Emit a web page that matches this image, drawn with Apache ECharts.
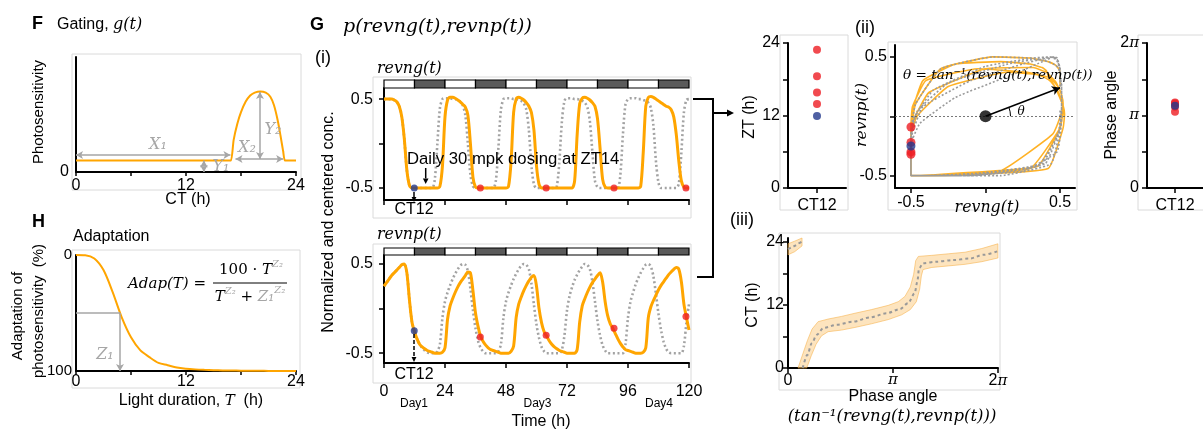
<!DOCTYPE html>
<html>
<head>
<meta charset="utf-8">
<script src="https://cdn.jsdelivr.net/npm/echarts@6.0.0/dist/echarts.min.js"></script>
<style>
html,body{margin:0;padding:0;background:#fff;}
#chart{width:1203px;height:433px;}
</style>
</head>
<body>
<div id="chart"></div>
<script>
// ================= DATA =================
// F: gating g(t)
const gatingCT    = [0, 12, 16.6, 16.9, 17.2, 17.6, 18.0, 18.5, 19.0, 19.5, 20.1, 20.7, 21.2, 21.6, 22.0, 22.3, 22.6, 22.8, 23.2, 24];
const gatingLevel = [0.10, 0.10, 0.10, 0.10, 0.28, 0.42, 0.52, 0.61, 0.665, 0.69, 0.70, 0.69, 0.655, 0.58, 0.45, 0.32, 0.18, 0.10, 0.10, 0.10];
// H: adaptation (%) vs light duration (h)
const adapHours = [0,1,2,3,4,5,6,7,8,9,10,11,12,13,14,15,16,17,18,19,20,21,22,23,24];
const adapPct   = [0,0.2,3,13,32,54,71,82,88,93,95,97,98,98.6,99,99.3,99.5,99.6,99.7,99.8,99.8,99.9,99.9,99.9,100];
// G(i): light/dark bar (12-h blocks)
const ldStart = [0,12,24,36,48,60,72,84,96,108];
const ldDark  = [0,1,0,1,0,1,0,1,0,1];
const ldHours = 12;
// G(i): hourly samples t = 0..120 h
const revngDosed = [
  0.50,0.50,0.50,0.50,0.49,0.47,0.42,0.30,0.05,-0.30,-0.47,-0.50,
  -0.50,-0.50,-0.50,-0.50,-0.50,-0.50,-0.50,-0.50,-0.50,-0.50,-0.48,-0.25,
  0.30,0.49,0.52,0.52,0.51,0.49,0.47,0.44,0.41,0.32,0.00,-0.38,
  -0.49,-0.50,-0.50,-0.50,-0.50,-0.50,-0.50,-0.50,-0.50,-0.50,-0.50,-0.50,
  -0.50,-0.48,-0.20,0.35,0.50,0.52,0.51,0.49,0.46,0.42,0.35,0.15,
  -0.25,-0.46,-0.50,-0.50,-0.50,-0.50,-0.50,-0.50,-0.50,-0.50,-0.50,-0.50,
  -0.50,-0.50,-0.50,-0.42,0.10,0.45,0.51,0.52,0.51,0.49,0.46,0.42,
  0.28,-0.05,-0.40,-0.49,-0.50,-0.50,-0.50,-0.50,-0.50,-0.50,-0.50,-0.50,
  -0.50,-0.50,-0.50,-0.50,-0.50,-0.48,-0.10,0.42,0.52,0.53,0.52,0.50,
  0.48,0.46,0.44,0.42,0.41,0.38,0.30,0.10,-0.20,-0.42,-0.49,-0.50,
  -0.50];
const revnpDosed = [
  0.25,0.29,0.33,0.37,0.40,0.43,0.46,0.49,0.50,0.40,0.10,-0.15,
  -0.26,-0.34,-0.40,-0.43,-0.45,-0.47,-0.48,-0.49,-0.50,-0.50,-0.50,-0.49,
  -0.44,-0.12,0.03,0.11,0.18,0.24,0.29,0.33,0.37,0.41,0.40,0.20,
  -0.05,-0.20,-0.31,-0.37,-0.41,-0.44,-0.46,-0.47,-0.48,-0.49,-0.50,-0.50,
  -0.50,-0.50,-0.48,-0.42,-0.10,0.05,0.13,0.20,0.26,0.31,0.35,0.37,
  0.25,0.00,-0.16,-0.26,-0.31,-0.36,-0.40,-0.43,-0.45,-0.47,-0.48,-0.49,
  -0.50,-0.50,-0.50,-0.50,-0.46,-0.15,0.03,0.11,0.18,0.24,0.29,0.33,
  0.37,0.40,0.30,0.08,-0.08,-0.17,-0.22,-0.28,-0.34,-0.39,-0.43,-0.46,
  -0.47,-0.48,-0.49,-0.50,-0.50,-0.50,-0.49,-0.44,-0.10,0.02,0.09,0.15,
  0.21,0.26,0.30,0.34,0.38,0.41,0.44,0.46,0.44,0.30,0.05,-0.10,
  -0.24];
const revngRef = [
  0.50,0.50,0.50,0.50,0.49,0.47,0.42,0.30,0.05,-0.30,-0.47,-0.50,
  -0.50,-0.50,-0.50,-0.50,-0.50,-0.50,-0.50,-0.50,-0.40,0.00,0.40,0.50,
  0.51,0.51,0.51,0.50,0.50,0.49,0.47,0.43,0.32,0.00,-0.35,-0.48,
  -0.50,-0.50,-0.50,-0.50,-0.50,-0.50,-0.50,-0.50,-0.42,-0.05,0.38,0.50,
  0.51,0.51,0.51,0.50,0.50,0.49,0.48,0.45,0.38,0.15,-0.25,-0.46,
  -0.50,-0.50,-0.50,-0.50,-0.50,-0.50,-0.50,-0.50,-0.48,-0.20,0.25,0.48,
  0.51,0.51,0.51,0.50,0.50,0.49,0.48,0.46,0.41,0.25,-0.10,-0.42,
  -0.49,-0.50,-0.50,-0.50,-0.50,-0.50,-0.50,-0.50,-0.50,-0.35,0.10,0.44,
  0.50,0.51,0.51,0.51,0.50,0.50,0.49,0.48,0.46,0.40,0.20,-0.20,
  -0.44,-0.50,-0.50,-0.50,-0.50,-0.50,-0.50,-0.50,-0.45,-0.10,0.35,0.49,
  0.50];
const revnpRef = [
  0.25,0.29,0.33,0.37,0.40,0.43,0.46,0.49,0.50,0.40,0.10,-0.15,
  -0.26,-0.34,-0.40,-0.44,-0.47,-0.49,-0.50,-0.50,-0.50,-0.48,-0.40,-0.10,
  0.08,0.18,0.26,0.33,0.39,0.44,0.48,0.50,0.49,0.42,0.22,-0.02,
  -0.22,-0.36,-0.44,-0.48,-0.50,-0.50,-0.50,-0.50,-0.50,-0.48,-0.40,-0.10,
  0.08,0.18,0.26,0.33,0.39,0.44,0.48,0.50,0.49,0.44,0.28,0.04,
  -0.18,-0.33,-0.43,-0.48,-0.50,-0.50,-0.50,-0.50,-0.50,-0.50,-0.46,-0.30,
  -0.02,0.14,0.24,0.32,0.38,0.43,0.47,0.50,0.49,0.44,0.30,0.08,
  -0.14,-0.30,-0.41,-0.47,-0.50,-0.50,-0.50,-0.50,-0.50,-0.50,-0.50,-0.40,
  -0.10,0.08,0.18,0.27,0.34,0.40,0.45,0.49,0.50,0.47,0.36,0.16,
  -0.06,-0.24,-0.37,-0.45,-0.49,-0.50,-0.50,-0.50,-0.50,-0.50,-0.42,-0.15,
  0.05];
// CT12 sampling points (first = blue CT12, rest = red daily)
const dotT = [11.9, 37.9, 63.8, 90.5, 118.8];
const dotG = [-0.50, -0.50, -0.50, -0.50, -0.50];
const dotP = [-0.25, -0.32, -0.30, -0.22, -0.09];
const ztHours  = [11.9, 13.9, 15.8, 18.5, 22.9];
const phaseRad = [3.56, 3.70, 3.66, 3.52, 3.30];
// (ii) theta arrow tip
const thetaTip = [0.5, 0.24];
// (iii) CT vs phase angle
const ctCurve1Phase = [0.0, 0.1, 0.2, 0.3, 0.41];
const ctCurve1      = [22.6, 22.9, 23.2, 23.6, 24.0];
const ctCurve2Phase = [0.44,0.58,0.71,0.86,1.06,1.45,1.95,2.45,2.95,3.35,3.59,3.79,3.87,3.92,4.04,4.44,4.94,5.44,5.84,6.28];
const ctCurve2      = [0,2.5,4.7,6.3,7.6,8.2,8.8,9.6,10.4,11.2,12.3,14.2,16.4,18.9,19.9,20.2,20.5,20.8,21.5,22.2];
const band1HiPhase = [0, 0.2, 0.42];
const band1Hi      = [23.6, 24.1, 24.7];
const band1LoPhase = [0, 0.2, 0.42];
const band1Lo      = [21.5, 22.1, 23.2];
const band2HiPhase = [0.30,0.45,0.58,0.72,0.90,1.20,1.60,2.00,2.50,3.00,3.30,3.50,3.66,3.76,3.82,3.90,4.30,4.80,5.30,5.80,6.28];
const band2Hi      = [0,2.8,5.2,7.4,8.8,9.3,9.8,10.4,11.1,11.9,12.6,13.6,15.4,17.8,20.4,21.2,21.4,21.7,22.0,22.7,23.6];
const band2LoPhase = [0.56,0.70,0.84,1.00,1.20,1.60,2.00,2.50,3.00,3.40,3.66,3.84,3.94,3.99,4.04,4.30,4.80,5.30,5.80,6.28];
const band2Lo      = [0,2.4,4.5,6.1,6.9,7.2,7.7,8.4,9.2,10.1,11.1,12.6,15.0,17.5,18.7,19.1,19.4,19.7,20.2,20.9];

// ================= STYLE =================
const SANS = 'Liberation Sans';
const SERIF = 'DejaVu Serif';
const ORANGE = '#FFA500';
const RED = '#EE1D23';
const BLUE = '#23388C';
const DOTGRAY = '#A3A3A3';
const ANN = '#A6A6A6';
const PI = Math.PI;

const zip = (a, b) => a.map((v, i) => [v, b[i]]);
const hourly = arr => arr.map((v, i) => [i, v]);

const axLine = { show: true, onZero: false, lineStyle: { color: '#000', width: 2 } };
const axTick = (extra) => Object.assign({ show: true, length: 5, lineStyle: { color: '#000', width: 1.5 } }, extra || {});
const lab = (extra) => Object.assign({ show: true, color: '#000', fontFamily: SANS, fontSize: 16 }, extra || {});
const noSplit = { show: false };
const piRich = { p: { fontFamily: SERIF, fontStyle: 'italic', fontSize: 15, color: '#000' } };
const piFmt = v => (Math.abs(v) < 1e-9 ? '0' : Math.abs(v - PI) < 1e-6 ? '{p|π}' : '2{p|π}');

// ================= TEXT / SHAPE HELPERS =================
const mctx = document.createElement('canvas').getContext('2d');
function fontStr(o) { return (o.italic ? 'italic ' : '') + (o.bold ? 'bold ' : '') + o.size + 'px "' + (o.family || SANS) + '"'; }
function measure(text, o) { mctx.font = fontStr(o); return mctx.measureText(text).width; }
function txt(x, y, text, opt) {
  const o = Object.assign({ size: 16, family: SANS, color: '#000', align: 'left', rot: 0 }, opt || {});
  if (o.fitW) { const w1 = measure(text, Object.assign({}, o, { size: 100 })); o.size = Math.round(1000 * o.fitW / w1) / 10; }
  return { type: 'text', x: x, y: y, rotation: o.rot, silent: true, z: 20,
    style: { text: text, fill: o.color, font: fontStr(o), textAlign: o.align, textVerticalAlign: 'middle', align: o.align, verticalAlign: 'middle' } };
}
function seq(x, y, segs, align) {
  const items = segs.map(s => { const o = Object.assign({ size: 16, family: SANS, color: '#000' }, s); o.w = measure(s.t, o); return o; });
  const total = items.reduce((a, b) => a + b.w, 0);
  let cx = align === 'center' ? x - total / 2 : align === 'right' ? x - total : x;
  return items.map(o => { const el = txt(cx, y + (o.dy || 0), o.t, Object.assign({}, o, { align: 'left', fitW: null })); cx += o.w; return el; });
}
function arrow(x1, y1, x2, y2, opt) {
  const o = Object.assign({ color: '#000', width: 1.5, head: 5, dash: null }, opt || {});
  const ang = Math.atan2(y2 - y1, x2 - x1);
  const hl = o.head * 1.4, hw = o.head * 0.7;
  const bx = x2 - hl * Math.cos(ang), by = y2 - hl * Math.sin(ang);
  const px = -Math.sin(ang) * hw, py = Math.cos(ang) * hw;
  return [
    { type: 'line', silent: true, z: 20, shape: { x1: x1, y1: y1, x2: bx, y2: by }, style: { stroke: o.color, lineWidth: o.width, lineDash: o.dash } },
    { type: 'polygon', silent: true, z: 20, shape: { points: [[x2, y2], [bx + px, by + py], [bx - px, by - py]] }, style: { fill: o.color } }
  ];
}
function box(x, y, w, h) {
  return { type: 'rect', silent: true, z: 0, shape: { x: x, y: y, width: w, height: h }, style: { fill: 'none', stroke: '#DADADA', lineWidth: 1 } };
}

// ================= CHART =================
const chart = echarts.init(document.getElementById('chart'), null, { renderer: 'canvas' });

const ldRender = (params, api) => {
  const s = api.value(0);
  const p0 = api.coord([s, 1]);
  const p1 = api.coord([s + ldHours, 0]);
  return { type: 'rect', shape: { x: p0[0], y: p0[1], width: p1[0] - p0[0], height: p1[1] - p0[1] },
    style: { fill: api.value(2) ? '#5A5A5A' : '#FFFFFF', stroke: '#000', lineWidth: 1.2 } };
};
const ldData = ldStart.map((s, i) => [s, 0.5, ldDark[i]]);

const bandRender = (params, api) => {
  const hiP = params.dataIndex === 0 ? band1HiPhase : band2HiPhase;
  const hi = params.dataIndex === 0 ? band1Hi : band2Hi;
  const loP = params.dataIndex === 0 ? band1LoPhase : band2LoPhase;
  const lo = params.dataIndex === 0 ? band1Lo : band2Lo;
  const pts = hiP.map((p, i) => api.coord([p, hi[i]]));
  for (let i = loP.length - 1; i >= 0; i--) pts.push(api.coord([loP[i], lo[i]]));
  return { type: 'polygon', shape: { points: pts }, style: { fill: 'rgba(250,195,110,0.45)', stroke: 'rgba(245,175,70,0.55)', lineWidth: 1 } };
};

const option = {
  animation: false,
  backgroundColor: '#fff',
  textStyle: { fontFamily: SANS },
  grid: [
    { left: 76, top: 57, width: 220, height: 115 },   // 0 F
    { left: 76, top: 255, width: 220, height: 116 },  // 1 H
    { left: 384, top: 80, width: 305, height: 8 },    // 2 LD top
    { left: 384, top: 88, width: 305, height: 112 },  // 3 revng
    { left: 384, top: 248, width: 305, height: 7 },   // 4 LD bottom
    { left: 384, top: 255, width: 305, height: 108 }, // 5 revnp
    { left: 788, top: 43, width: 58, height: 145 },   // 6 ZT
    { left: 895, top: 45, width: 180, height: 143 },  // 7 phase plane
    { left: 1147, top: 43, width: 58, height: 145 },  // 8 phase angle
    { left: 788, top: 238, width: 210, height: 130 }  // 9 (iii)
  ],
  xAxis: [
    { gridIndex: 0, type: 'value', min: 0, max: 24, interval: 6, axisLine: axLine, axisTick: axTick({ length: 4 }), splitLine: noSplit,
      axisLabel: lab({ margin: 6, formatter: v => (v % 12 === 0 ? String(v) : '') }) },
    { gridIndex: 1, type: 'value', min: 0, max: 24, interval: 6, axisLine: axLine, axisTick: axTick({ length: 4 }), splitLine: noSplit,
      axisLabel: lab({ margin: 3, formatter: v => (v % 12 === 0 ? String(v) : '') }) },
    { gridIndex: 2, type: 'value', min: 0, max: 120, show: false },
    { gridIndex: 3, type: 'value', min: 0, max: 120, interval: 24, axisLine: axLine, axisTick: axTick(), splitLine: noSplit, axisLabel: { show: false } },
    { gridIndex: 4, type: 'value', min: 0, max: 120, show: false },
    { gridIndex: 5, type: 'value', min: 0, max: 120, interval: 24, axisLine: axLine, axisTick: axTick(), splitLine: noSplit, axisLabel: lab({ margin: 21 }) },
    { gridIndex: 6, type: 'category', data: ['CT12'], axisLine: axLine, axisTick: axTick({ alignWithLabel: true }), axisLabel: lab({ margin: 10 }) },
    { gridIndex: 7, type: 'value', min: -0.607, max: 0.6, axisLine: axLine, splitLine: noSplit,
      axisTick: axTick({ customValues: [-0.5, 0, 0.5] }), axisLabel: lab({ margin: 7, customValues: [-0.5, 0.5] }) },
    { gridIndex: 8, type: 'category', data: ['CT12'], axisLine: axLine, axisTick: axTick({ alignWithLabel: true }), axisLabel: lab({ margin: 10 }) },
    { gridIndex: 9, type: 'value', min: 0, max: 2 * PI, axisLine: axLine, splitLine: noSplit,
      axisTick: axTick({ customValues: [0, PI, 2 * PI] }), axisLabel: lab({ margin: 5, customValues: [0, PI, 2 * PI], formatter: piFmt, rich: piRich }) }
  ],
  yAxis: [
    { gridIndex: 0, type: 'value', min: 0, max: 1, axisLine: axLine, axisTick: { show: false }, splitLine: noSplit,
      axisLabel: lab({ margin: 7, customValues: [0] }) },
    { gridIndex: 1, type: 'value', min: 0, max: 100, inverse: true, axisLine: axLine, axisTick: { show: false }, splitLine: noSplit,
      axisLabel: lab({ margin: 4, fontSize: 15, customValues: [0, 100] }) },
    { gridIndex: 2, type: 'value', min: 0, max: 1, show: false },
    { gridIndex: 3, type: 'value', min: -0.635, max: 0.625, axisLine: axLine, splitLine: noSplit,
      axisTick: axTick({ customValues: [-0.5, 0, 0.5] }), axisLabel: lab({ margin: 11, customValues: [-0.5, 0.5] }) },
    { gridIndex: 4, type: 'value', min: 0, max: 1, show: false },
    { gridIndex: 5, type: 'value', min: -0.61, max: 0.6, axisLine: axLine, splitLine: noSplit,
      axisTick: axTick({ customValues: [-0.5, 0, 0.5] }), axisLabel: lab({ margin: 11, customValues: [-0.5, 0.5] }) },
    { gridIndex: 6, type: 'value', min: 0, max: 24, interval: 6, axisLine: axLine, axisTick: axTick(), splitLine: noSplit,
      axisLabel: lab({ margin: 8, formatter: v => (v % 12 === 0 ? String(v) : '') }) },
    { gridIndex: 7, type: 'value', min: -0.604, max: 0.6, axisLine: axLine, splitLine: noSplit,
      axisTick: axTick({ customValues: [-0.5, 0, 0.5] }), axisLabel: lab({ margin: 8, customValues: [-0.5, 0.5] }) },
    { gridIndex: 8, type: 'value', min: 0, max: 2 * PI, axisLine: axLine, splitLine: noSplit,
      axisTick: axTick({ customValues: [0, PI / 2, PI, 3 * PI / 2, 2 * PI] }),
      axisLabel: lab({ margin: 8, customValues: [0, PI, 2 * PI], formatter: piFmt, rich: piRich }) },
    { gridIndex: 9, type: 'value', min: 0, max: 24.7, axisLine: axLine, splitLine: noSplit,
      axisTick: axTick({ customValues: [0, 6, 12, 18, 24] }), axisLabel: lab({ margin: 4, customValues: [0, 12, 24] }) }
  ],
  series: [
    // ---- F gating ----
    { type: 'line', xAxisIndex: 0, yAxisIndex: 0, data: zip(gatingCT, gatingLevel), smooth: 0.25,
      showSymbol: false, lineStyle: { color: ORANGE, width: 2 }, z: 3,
      markLine: { silent: true, symbol: ['arrow', 'arrow'], symbolSize: [6, 7], label: { show: false },
        lineStyle: { color: ANN, width: 1.5, type: 'solid' },
        data: [
          [{ coord: [0, 0.148] }, { coord: [16.85, 0.148] }],
          [{ coord: [17.4, 0.113] }, { coord: [22.6, 0.113] }],
          [{ coord: [13.95, 0.0] }, { coord: [13.95, 0.1] }],
          [{ coord: [20.07, 0.113] }, { coord: [20.07, 0.695] }]
        ] } },
    // ---- H adaptation ----
    { type: 'line', xAxisIndex: 1, yAxisIndex: 1, data: zip(adapHours, adapPct), smooth: 0.3, showSymbol: false,
      lineStyle: { color: ORANGE, width: 2 }, z: 3,
      markLine: { silent: true, label: { show: false }, lineStyle: { color: ANN, width: 1.5, type: 'solid' },
        data: [
          [{ coord: [0, 50], symbol: 'none' }, { coord: [4.8, 50], symbol: 'none' }],
          [{ coord: [4.8, 50], symbol: 'none' }, { coord: [4.8, 100], symbol: 'arrow', symbolSize: [6, 7] }]
        ] } },
    // ---- LD bars ----
    { type: 'custom', xAxisIndex: 2, yAxisIndex: 2, data: ldData, renderItem: ldRender, silent: true },
    { type: 'custom', xAxisIndex: 4, yAxisIndex: 4, data: ldData, renderItem: ldRender, silent: true },
    // ---- revng(t) ----
    { type: 'line', xAxisIndex: 3, yAxisIndex: 3, data: hourly(revngRef), smooth: 0.3, showSymbol: false,
      lineStyle: { color: DOTGRAY, width: 2.6, type: [2, 2.6] }, z: 2 },
    { type: 'line', xAxisIndex: 3, yAxisIndex: 3, data: hourly(revngDosed), smooth: 0.3, showSymbol: false,
      lineStyle: { color: ORANGE, width: 3 }, z: 3 },
    { type: 'scatter', xAxisIndex: 3, yAxisIndex: 3, data: zip(dotT, dotG).slice(1), symbolSize: 7, itemStyle: { color: RED }, z: 5 },
    { type: 'scatter', xAxisIndex: 3, yAxisIndex: 3, data: zip(dotT, dotG).slice(0, 1), symbolSize: 7, itemStyle: { color: BLUE }, z: 6 },
    // ---- revnp(t) ----
    { type: 'line', xAxisIndex: 5, yAxisIndex: 5, data: hourly(revnpRef), smooth: 0.3, showSymbol: false,
      lineStyle: { color: DOTGRAY, width: 2.6, type: [2, 2.6] }, z: 2 },
    { type: 'line', xAxisIndex: 5, yAxisIndex: 5, data: hourly(revnpDosed), smooth: 0.3, showSymbol: false,
      lineStyle: { color: ORANGE, width: 3 }, z: 3 },
    { type: 'scatter', xAxisIndex: 5, yAxisIndex: 5, data: zip(dotT, dotP).slice(1), symbolSize: 7, itemStyle: { color: RED }, z: 5 },
    { type: 'scatter', xAxisIndex: 5, yAxisIndex: 5, data: zip(dotT, dotP).slice(0, 1), symbolSize: 7, itemStyle: { color: BLUE }, z: 6 },
    // ---- ZT ----
    { type: 'scatter', xAxisIndex: 6, yAxisIndex: 6, data: ztHours.slice(1).map(v => [0, v]), symbolSize: 8, itemStyle: { color: RED }, z: 5 },
    { type: 'scatter', xAxisIndex: 6, yAxisIndex: 6, data: ztHours.slice(0, 1).map(v => [0, v]), symbolSize: 8, itemStyle: { color: BLUE }, z: 6 },
    // ---- (ii) phase plane ----
    { type: 'line', xAxisIndex: 7, yAxisIndex: 7, data: zip(revngDosed, revnpDosed), smooth: 0.12, showSymbol: false,
      lineStyle: { color: ORANGE, width: 1.6, opacity: 0.85 }, z: 2,
      markLine: { silent: true, symbol: 'none', label: { show: false }, lineStyle: { color: '#555', width: 0.8, type: [2, 2] },
        data: [{ yAxis: 0 }] } },
    { type: 'line', xAxisIndex: 7, yAxisIndex: 7, data: zip(revngRef, revnpRef), smooth: 0.12, showSymbol: false,
      lineStyle: { color: '#9A9A9A', width: 1.6, type: [2, 2] }, z: 3 },
    { type: 'scatter', xAxisIndex: 7, yAxisIndex: 7, data: zip(dotG, dotP).slice(1), symbolSize: 9, itemStyle: { color: RED }, z: 5 },
    { type: 'scatter', xAxisIndex: 7, yAxisIndex: 7, data: zip(dotG, dotP).slice(0, 1), symbolSize: 9, itemStyle: { color: BLUE }, z: 6 },
    { type: 'scatter', xAxisIndex: 7, yAxisIndex: 7, data: [[0, 0]], symbolSize: 12, itemStyle: { color: '#000' }, z: 7,
      markLine: { silent: true, symbol: ['none', 'arrow'], symbolSize: [7, 8], label: { show: false },
        lineStyle: { color: '#000', width: 1.5, type: 'solid' },
        data: [[{ coord: [0, 0] }, { coord: thetaTip }]] } },
    // ---- phase angle ----
    { type: 'scatter', xAxisIndex: 8, yAxisIndex: 8, data: phaseRad.slice(1).map(v => [0, v]), symbolSize: 8, itemStyle: { color: RED }, z: 5 },
    { type: 'scatter', xAxisIndex: 8, yAxisIndex: 8, data: phaseRad.slice(0, 1).map(v => [0, v]), symbolSize: 8, itemStyle: { color: BLUE }, z: 6 },
    // ---- (iii) ----
    { type: 'custom', xAxisIndex: 9, yAxisIndex: 9, data: [[0.1, 1], [0.2, 1]], renderItem: bandRender, silent: true, z: 1 },
    { type: 'line', xAxisIndex: 9, yAxisIndex: 9, data: zip(ctCurve1Phase, ctCurve1), smooth: 0.3, showSymbol: false,
      lineStyle: { color: '#999', width: 2, type: [3, 3] }, z: 3 },
    { type: 'line', xAxisIndex: 9, yAxisIndex: 9, data: zip(ctCurve2Phase, ctCurve2), smooth: 0.3, smoothMonotone: 'x', showSymbol: false,
      lineStyle: { color: '#999', width: 2, type: [3, 3] }, z: 3 }
  ]
};
chart.setOption(option);

// ================= ANNOTATION TEXT & SHAPES =================
const origin = chart.convertToPixel({ gridIndex: 7 }, [0, 0]);
const tip = chart.convertToPixel({ gridIndex: 7 }, thetaTip);
const thAng = Math.atan2(tip[1] - origin[1], tip[0] - origin[0]);

const g = [];
// light panel frames
g.push(box(72, 54, 229, 136), box(72, 250, 228, 138), box(373, 77, 318, 141), box(373, 244, 318, 139),
       box(780, 35, 68, 175), box(888, 42, 189, 168), box(1138, 35, 70, 175), box(779, 233, 221, 157));

// ---- F ----
g.push(txt(32, 24, 'F', { bold: true, size: 18 }));
g.push(...seq(57, 25, [{ t: 'Gating, ', size: 16 }, { t: 'g(t)', family: SERIF, italic: true, size: 16 }]));
g.push(txt(39, 112, 'Photosensitivity', { size: 15, align: 'center', rot: PI / 2 }));
g.push(txt(188, 200, 'CT (h)', { size: 16, align: 'center' }));
g.push(txt(158, 145, 'X₁', { family: SERIF, italic: true, size: 16, color: ANN, align: 'center' }));
g.push(txt(221, 167, 'Y₁', { family: SERIF, italic: true, size: 16, color: ANN, align: 'center' }));
g.push(txt(247, 148, 'X₂', { family: SERIF, italic: true, size: 16, color: ANN, align: 'center' }));
g.push(txt(273, 130, 'Y₂', { family: SERIF, italic: true, size: 16, color: ANN, align: 'center' }));

// ---- H ----
g.push(txt(32, 222, 'H', { bold: true, size: 18 }));
g.push(txt(73, 237, 'Adaptation', { size: 16 }));
g.push(txt(18, 316, 'Adaptation of', { size: 15, align: 'center', rot: PI / 2 }));
g.push(txt(39, 311, 'photosensitivity  (%)', { size: 15, align: 'center', rot: PI / 2 }));
g.push(...seq(191, 401, [{ t: 'Light duration, ', size: 16 }, { t: 'T', family: SERIF, italic: true, size: 15 }, { t: '  (h)', size: 16 }], 'center'));
g.push(txt(105, 355, 'Z₁', { family: SERIF, italic: true, size: 16, color: ANN, align: 'center' }));
g.push(...seq(128, 284, [{ t: 'Adap(T)', family: SERIF, italic: true, size: 15 }, { t: ' = ', family: SERIF, size: 15 }]));
g.push(...seq(251, 270, [{ t: '100 · ', family: SERIF, size: 15 }, { t: 'T', family: SERIF, italic: true, size: 15 },
  { t: 'Z₂', family: SERIF, italic: true, size: 10, color: ANN, dy: -6 }], 'center'));
g.push({ type: 'line', silent: true, z: 20, shape: { x1: 213, y1: 283, x2: 287, y2: 283 }, style: { stroke: '#000', lineWidth: 1 } });
g.push(...seq(250, 297, [{ t: 'T', family: SERIF, italic: true, size: 15 }, { t: 'Z₂', family: SERIF, italic: true, size: 10, color: ANN, dy: -6 },
  { t: ' + ', family: SERIF, size: 15 }, { t: 'Z₁', family: SERIF, italic: true, size: 15, color: ANN },
  { t: 'Z₂', family: SERIF, italic: true, size: 10, color: ANN, dy: -7 }], 'center'));

// ---- G (i) ----
g.push(txt(310, 25, 'G', { bold: true, size: 18 }));
g.push(txt(343, 27, 'p(revng(t),revnp(t))', { family: SERIF, italic: true, fitW: 189 }));
g.push(txt(315, 58, '(i)', { size: 18 }));
g.push(txt(377, 69, 'revng(t)', { family: SERIF, italic: true, fitW: 65 }));
g.push(txt(377, 235, 'revnp(t)', { family: SERIF, italic: true, fitW: 65 }));
g.push(txt(329, 222, 'Normalized and centered conc.', { size: 16, align: 'center', rot: PI / 2 }));
g.push(txt(407, 159, 'Daily 30 mpk dosing at ZT14', { fitW: 213 }));
g.push(...arrow(425.7, 168, 425.7, 184, { width: 1.5, head: 4 }));
g.push(...arrow(414, 192, 414, 202, { width: 1.5, head: 3.5 }));
g.push(txt(414, 210, 'CT12', { size: 16, align: 'center' }));
g.push(...arrow(414, 334, 414, 362, { width: 1.5, head: 3.5, dash: [4, 2] }));
g.push(txt(414, 375, 'CT12', { size: 16, align: 'center' }));
g.push(txt(414, 404, 'Day1', { size: 12, align: 'center' }));
g.push(txt(537.5, 404, 'Day3', { size: 12, align: 'center' }));
g.push(txt(659, 404, 'Day4', { size: 12, align: 'center' }));
g.push(txt(541, 422, 'Time (h)', { size: 16, align: 'center' }));
// connector
g.push({ type: 'polyline', silent: true, z: 20, shape: { points: [[693, 99], [713, 99], [713, 277], [697, 277]] },
  style: { stroke: '#000', lineWidth: 2, fill: 'none' } });
g.push(...arrow(713, 113, 734, 113, { width: 2, head: 5 }));

// ---- ZT ----
g.push(txt(750, 117, 'ZT (h)', { size: 16, align: 'center', rot: PI / 2 }));

// ---- (ii) ----
g.push(txt(865, 28, '(ii)', { size: 18, align: 'center' }));
g.push(txt(862, 115, 'revnp(t)', { family: SERIF, italic: true, fitW: 64, align: 'center', rot: PI / 2 }));
g.push(txt(987, 208, 'revng(t)', { family: SERIF, italic: true, fitW: 65, align: 'center' }));
g.push(txt(903, 75, 'θ = tan⁻¹(revng(t),revnp(t))', { family: SERIF, italic: true, fitW: 189 }));
g.push({ type: 'arc', silent: true, z: 20, shape: { cx: origin[0], cy: origin[1], r: 25, startAngle: thAng, endAngle: 0, clockwise: true },
  style: { stroke: '#000', fill: 'none', lineWidth: 1 } });
g.push(txt(1021, 112, 'θ', { family: SERIF, italic: true, size: 12, align: 'center' }));

// ---- phase angle ----
g.push(txt(1112, 115, 'Phase angle', { size: 16, align: 'center', rot: PI / 2 }));

// ---- (iii) ----
g.push(txt(742, 220, '(iii)', { size: 18, align: 'center' }));
g.push(txt(753, 305, 'CT (h)', { size: 16, align: 'center', rot: PI / 2 }));
g.push(txt(893, 397, 'Phase angle', { size: 16, align: 'center' }));
g.push(txt(892, 417, '(tan⁻¹(revng(t),revnp(t)))', { family: SERIF, italic: true, fitW: 209, align: 'center' }));

chart.setOption({ graphic: { elements: g } });
</script>
</body>
</html>
